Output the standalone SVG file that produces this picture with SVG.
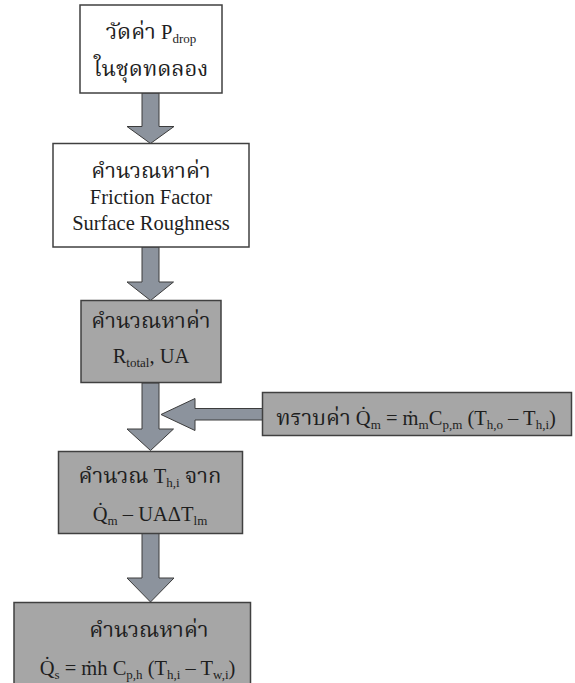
<svg xmlns="http://www.w3.org/2000/svg" width="575" height="683" viewBox="0 0 575 683">
<style>
.box{stroke:#404040;stroke-width:1.5}
.w{fill:#ffffff}
.g{fill:#a6a6a6}
.arr{fill:#8c939d;stroke:#3c3c3c;stroke-width:1}
text{font-family:"Liberation Serif","Times New Roman","Noto Serif Thai","Noto Sans Thai",serif;font-size:20.5px;fill:#1e1e1e;text-anchor:middle}
.s{font-size:13px}
.th{font-size:22px}
</style>
<rect x="0" y="0" width="575" height="683" fill="#ffffff"/>
<g id="connectors">
<polygon class="arr" points="142,93 159,93 159,126.5 174,126.5 150.5,143.5 127,126.5 142,126.5"/>
<polygon class="arr" points="142,247 159,247 159,282 173.5,282 150.5,300.5 127,282 142,282"/>
<polygon class="arr" points="142,383 159,383 159,429 173.5,429 150.5,450.5 127,429 142,429"/>
<polygon class="arr" points="142,533.5 159,533.5 159,578 174,578 150.5,602 127,578 142,578"/>
<polygon class="arr" points="262.5,408.5 195,408.5 195,398.5 161,414.5 195,430.5 195,420 262.5,420"/>
</g>
<g id="node1">
<rect class="box w" x="80" y="5" width="142" height="88"/>
<text x="151" y="39"><tspan class="th">วัดค่า</tspan> P<tspan class="s" dy="4">drop</tspan></text>
<text x="151" y="76" class="th">ในชุดทดลอง</text>
</g>
<g id="node2">
<rect class="box w" x="53" y="143.5" width="196" height="103.5"/>
<text x="151" y="178" class="th">คำนวณหาค่า</text>
<text x="151" y="204">Friction Factor</text>
<text x="151" y="230">Surface Roughness</text>
</g>
<g id="node3">
<rect class="box g" x="81" y="300.5" width="140" height="82"/>
<text x="151" y="328" class="th">คำนวณหาค่า</text>
<text x="151" y="363">R<tspan class="s" dy="4">total</tspan><tspan dy="-4">, UA</tspan></text>
</g>
<g id="node-right">
<rect class="box g" x="262.5" y="392.5" width="309" height="43"/>
<text x="416" y="425"><tspan class="th">ทราบค่า</tspan> Q̇<tspan class="s" dy="4">m</tspan><tspan dy="-4"> = ṁ</tspan><tspan class="s" dy="4">m</tspan><tspan dy="-4">C</tspan><tspan class="s" dy="4">p,m</tspan><tspan dy="-4"> (T</tspan><tspan class="s" dy="4">h,o</tspan><tspan dy="-4"> – T</tspan><tspan class="s" dy="4">h,i</tspan><tspan dy="-4">)</tspan></text>
</g>
<g id="node4">
<rect class="box g" x="58.5" y="451.5" width="184" height="82"/>
<text x="150" y="483"><tspan class="th">คำนวณ</tspan> T<tspan class="s" dy="4">h,i</tspan><tspan dy="-4"> </tspan><tspan class="th">จาก</tspan></text>
<text x="150" y="520.5">Q̇<tspan class="s" dy="4">m</tspan><tspan dy="-4"> – UAΔT</tspan><tspan class="s" dy="4">lm</tspan></text>
</g>
<g id="node5">
<rect class="box g" x="14" y="602.5" width="236.5" height="90"/>
<text x="149" y="637" class="th">คำนวณหาค่า</text>
<text x="137.5" y="675">Q̇<tspan class="s" dy="4">s</tspan><tspan dy="-4"> = ṁh C</tspan><tspan class="s" dy="4">p,h</tspan><tspan dy="-4"> (T</tspan><tspan class="s" dy="4">h,i</tspan><tspan dy="-4"> – T</tspan><tspan class="s" dy="4">w,i</tspan><tspan dy="-4">)</tspan></text>
</g>
</svg>
